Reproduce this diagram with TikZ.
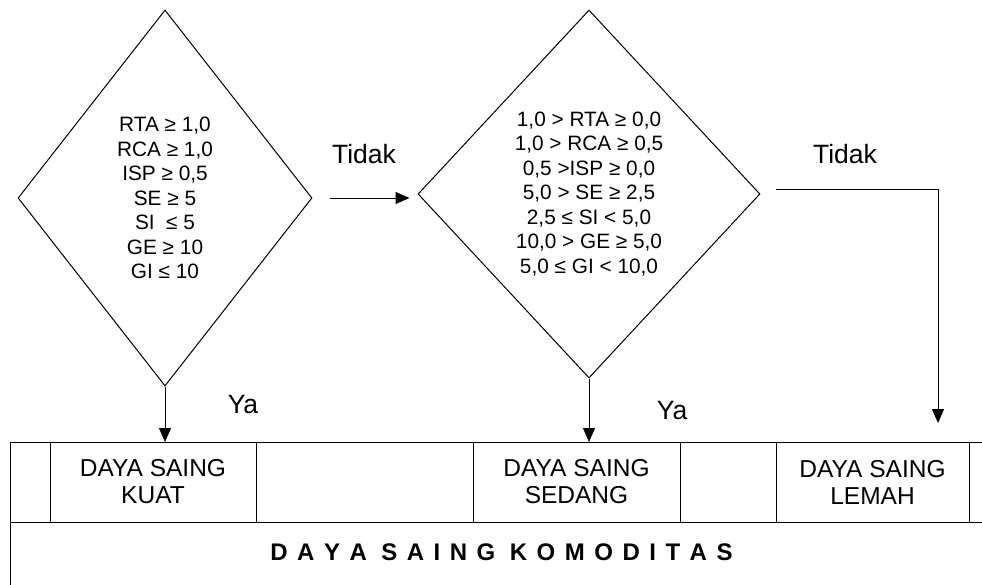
\documentclass[tikz,border=0pt]{standalone}
\usepackage{fontspec}
\setmainfont{Liberation Sans}
\usetikzlibrary{shapes.geometric, positioning, arrows.meta}

\begin{document}
\begin{tikzpicture}[x=1pt, y=-1pt, line width=1pt, >={Triangle[length=14pt, width=12pt]},
    cond/.style={diamond, draw, inner sep=0pt, align=center, font=\fontsize{20.8}{24.5}\selectfont},
    cell/.style={rectangle, draw, inner sep=0pt, outer sep=0pt, minimum height=80pt, align=center, font=\fontsize{24.5}{27}\selectfont},
    lbl/.style={font=\fontsize{26.5}{30}\selectfont}]
    \useasboundingbox (0,0) rectangle (982,584);
    \clip (0,0) rectangle (982,584);

    % Nodes
    \node (kuatcond) [cond, minimum width=294pt, minimum height=376pt] at (165,198)
        {RTA ≥ 1,0\\RCA ≥ 1,0\\ISP ≥ 0,5\\SE ≥ 5\\SI\ \ ≤ 5\\GE ≥ 10\\GI ≤ 10};
    \node (sedangcond) [cond, minimum width=342pt, minimum height=368pt] at (589,194)
        {1,0 > RTA ≥ 0,0\\1,0 > RCA ≥ 0,5\\0,5 >ISP ≥ 0,0\\5,0 > SE ≥ 2,5\\2,5 ≤ SI < 5,0\\10,0 > GE ≥ 5,0\\5,0 ≤ GI < 10,0};

    \node (blank0) [cell, minimum width=40pt, anchor=north west] at (10,442) {};
    \node (kuat) [cell, minimum width=206pt, right=0pt of blank0] {DAYA SAING\\KUAT};
    \node (blank1) [cell, minimum width=217pt, right=0pt of kuat] {};
    \node (sedang) [cell, minimum width=207pt, right=0pt of blank1] {DAYA SAING\\SEDANG};
    \node (blank2) [cell, minimum width=96pt, right=0pt of sedang] {};
    \node (lemah) [cell, minimum width=193pt, right=0pt of blank2] {DAYA SAING\\LEMAH};
    \node (blank3) [cell, minimum width=40pt, right=0pt of lemah] {};
    \node (komoditas) [rectangle, draw, inner sep=0pt, minimum width=982pt, minimum height=100pt, anchor=north west] at (blank0.south west) {};
    \node (title) [font=\bfseries\fontsize{24}{28}\selectfont] at ([yshift=-30pt]komoditas.north)
        {\spaceskip=9.5pt\relax D A Y A\hspace{14.5pt}S A I N G\hspace{14.5pt}K O M O D I T A S};

    \node (tidak1) [lbl] at (364,154) {Tidak};
    \node (tidak2) [lbl] at (845,154) {Tidak};
    \node (ya1) [lbl] at (243,405) {Ya};
    \node (ya2) [lbl] at (672,411) {Ya};
    \coordinate (lemahin) at (938,423);

    % Arrows
    \draw[->] (kuatcond.south) -- (kuatcond.south |- kuat.north);
    \draw[->] (sedangcond.south) -- (sedangcond.south |- sedang.north);
    \draw[->, shorten <=17pt, shorten >=8pt] (kuatcond.east) -- (kuatcond.east -| sedangcond.west);
    \draw[->] ([xshift=15pt, yshift=5pt]sedangcond.east) -| (lemahin);
\end{tikzpicture}
\end{document}
